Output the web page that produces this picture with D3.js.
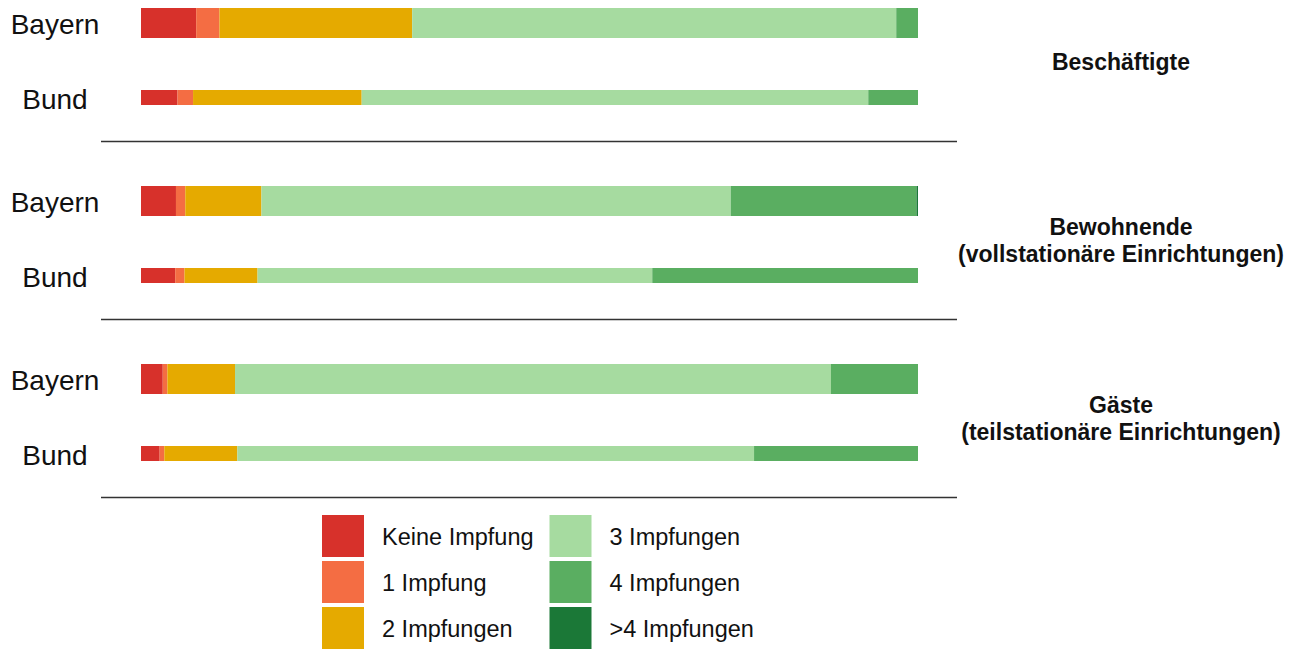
<!DOCTYPE html>
<html>
<head>
<meta charset="utf-8">
<script src="https://cdn.jsdelivr.net/npm/d3@7"></script>
<style>
  body { margin: 0; background: #fff; }
  svg text { font-family: "Liberation Sans", Arial, sans-serif; fill: #111; }
</style>
</head>
<body>
<div id="chart"></div>
<script>
// Anteile in Prozent, Reihenfolge: Besch. Bayern, Besch. Bund, Bew. Bayern, Bew. Bund, Gäste Bayern, Gäste Bund
var groups = ["Beschäftigte", "Bewohnende", "Gäste"];
var groupLabels = [
  ["Beschäftigte"],
  ["Bewohnende", "(vollstationäre Einrichtungen)"],
  ["Gäste", "(teilstationäre Einrichtungen)"]
];
var regions = ["Bayern", "Bund"];
var categories = ["Keine Impfung", "1 Impfung", "2 Impfungen", "3 Impfungen", "4 Impfungen", ">4 Impfungen"];
var colors = ["#d7312b", "#f46d43", "#e5aa00", "#a6dba0", "#5aae61", "#1b7837"];

var keine = [7.1, 4.7, 4.5, 4.4, 2.8, 2.4];
var eine  = [3.0, 2.0, 1.2, 1.2, 0.6, 0.6];
var zwei  = [24.8, 21.7, 9.8, 9.4, 8.7, 9.4];
var drei  = [62.3, 65.2, 60.4, 50.8, 76.7, 66.5];
var vier  = [2.8, 6.4, 23.9, 34.2, 11.2, 21.1];
var mehr  = [0, 0, 0.2, 0, 0, 0];

var series = [keine, eine, zwei, drei, vier, mehr];

var rows = [];
groups.forEach(function(g, gi) {
  regions.forEach(function(r, ri) {
    var idx = gi * 2 + ri;
    var row = { group: gi, region: ri };
    categories.forEach(function(c, ci) { row[c] = series[ci][idx]; });
    rows.push(row);
  });
});

var width = 1303, height = 649;

var svg = d3.select("#chart").append("svg")
  .attr("width", width)
  .attr("height", height);

var x = d3.scaleLinear().domain([0, 100]).range([141, 918]);
// Mitte des Bayern-Balkens je Gruppe
var gy = d3.scaleLinear().domain([0, groups.length - 1]).range([23, 379]);
var rowOffset = [0, 74.5];
var barH = [30, 15];

function rowY(d) { return gy(d.group) + rowOffset[d.region]; }

var stack = d3.stack().keys(categories);
var stacked = stack(rows);

var layers = svg.selectAll(".layer")
  .data(stacked)
  .enter().append("g")
    .attr("class", "layer")
    .style("fill", function(d, i) { return colors[i]; });

layers.selectAll("rect")
  .data(function(d) { return d; })
  .enter().append("rect")
    .attr("x", function(d) { return x(d[0]); })
    .attr("width", function(d) { return Math.max(0, x(d[1]) - x(d[0])); })
    .attr("y", function(d) { return rowY(d.data) - barH[d.data.region] / 2; })
    .attr("height", function(d) { return barH[d.data.region]; });

// Zeilenbeschriftung links
svg.selectAll(".rowLabel")
  .data(rows)
  .enter().append("text")
    .attr("class", "rowLabel")
    .attr("x", 55)
    .attr("y", function(d) { return rowY(d) + 11; })
    .style("text-anchor", "middle")
    .style("font-size", "28px")
    .text(function(d) { return regions[d.region]; });

// Trennlinien
svg.selectAll(".sep")
  .data(groups)
  .enter().append("line")
    .attr("class", "sep")
    .attr("x1", 101)
    .attr("x2", 957)
    .attr("y1", function(d, i) { return gy(i) + 118.5; })
    .attr("y2", function(d, i) { return gy(i) + 118.5; })
    .style("stroke", "#333")
    .style("stroke-width", 1.5);

// Gruppenbeschriftung rechts
var gl = svg.selectAll(".groupLabel")
  .data(groupLabels)
  .enter().append("text")
    .attr("class", "groupLabel")
    .attr("x", 1121)
    .attr("y", function(d, i) { return gy(i) + (d.length == 1 ? 47 : 34); })
    .style("text-anchor", "middle")
    .style("font-size", "23px")
    .style("font-weight", "bold");

gl.selectAll("tspan")
  .data(function(d) { return d; })
  .enter().append("tspan")
    .attr("x", 1121)
    .attr("dy", function(d, i) { return i == 0 ? 0 : 26.5; })
    .text(function(d) { return d; });

// Legende
var legend = svg.selectAll(".legend")
  .data(categories)
  .enter().append("g")
    .attr("class", "legend")
    .attr("transform", function(d, i) {
      var col = Math.floor(i / 3), r = i % 3;
      return "translate(" + (322 + col * 227.5) + "," + (515 + r * 46) + ")";
    });

legend.append("rect")
  .attr("width", 42)
  .attr("height", 42)
  .style("fill", function(d, i) { return colors[i]; });

legend.append("text")
  .attr("x", 60)
  .attr("y", 30)
  .style("font-size", "23.5px")
  .text(function(d) { return d; });
</script>
</body>
</html>
